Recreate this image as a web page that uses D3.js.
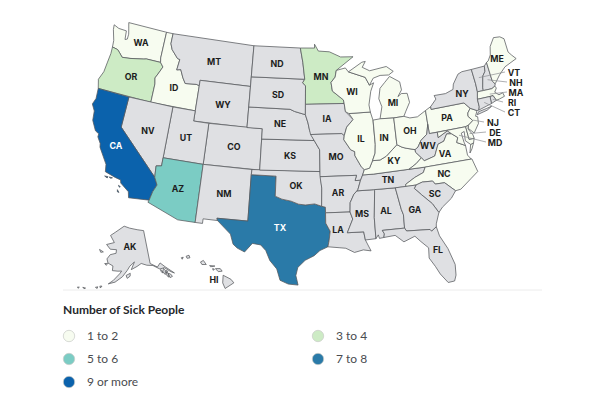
<!DOCTYPE html>
<html>
<head>
<meta charset="utf-8">
<script src="https://cdn.jsdelivr.net/npm/d3@7"></script>
<style>
  html, body { margin: 0; padding: 0; background: #fff; }
  svg { display: block; }
  .state { stroke: #55585c; stroke-width: 0.75; stroke-linejoin: round; }
  .abbr { font-family: Inter, sans-serif; font-weight: 700; font-size: 8.8px; text-anchor: middle; dominant-baseline: central; fill: #1b1c20; }
  .legend-title { font-family: Lato, sans-serif; font-weight: 700; font-size: 12px; fill: #26282c; }
  .legend-label { font-family: Lato, sans-serif; font-size: 12px; fill: #4a4c50; }
</style>
</head>
<body>
<svg id="chart" width="595" height="406"></svg>
<script>
// legend buckets
const bucketLabels = ["1 to 2", "3 to 4", "5 to 6", "7 to 8", "9 or more"];
const bucketColors = ["#f7fcf0", "#cdebc5", "#7bccc4", "#2a7aa8", "#0b62ac"];
const noCaseColor = "#dfe0e3";

// which bucket each state falls in (missing = no sick people reported)
const bucket0 = ["WA", "ID", "WI", "MI", "IL", "IN", "OH", "KY", "PA", "VA", "NC", "ME", "MA", "NJ", "MD", "DE"];
const bucket1 = ["OR", "MN"];
const bucket2 = ["AZ"];
const bucket3 = ["TX"];
const bucket4 = ["CA"];

// rough state outlines, lon/lat
const stateShapes = {
  WA: [[[-124.7,48.38],[-123.9,48.17],[-122.75,48.15],[-122.6,47.3],[-122.3,47.4],[-122.3,47.9],[-122.5,48.4],[-122.75,49],[-117.03,49],[-117.04,46.42],[-116.92,45.99],[-118.98,46],[-119.3,45.93],[-121.2,45.65],[-122.3,45.55],[-122.8,45.9],[-123.2,46.15],[-124,46.25],[-124.1,46.9],[-124.6,47.9]]],
  OR: [[[-124,46.25],[-123.2,46.15],[-122.8,45.9],[-122.3,45.55],[-121.2,45.65],[-119.3,45.93],[-118.98,46],[-116.92,45.99],[-116.46,45.6],[-116.85,44.95],[-117.2,44.4],[-117.03,43.83],[-117.03,42],[-124.21,42],[-124.55,42.85],[-124.15,43.7],[-124.05,44.7],[-123.95,45.6]]],
  ID: [[[-117.03,49],[-116.05,49],[-116.05,48],[-115.7,47.45],[-114.7,46.7],[-114.35,46.65],[-114.5,45.6],[-113.95,45.7],[-113.45,44.95],[-113,44.45],[-111.5,44.55],[-111.05,44.48],[-111.05,42],[-117.03,42],[-117.03,43.83],[-117.2,44.4],[-116.85,44.95],[-116.46,45.6],[-116.92,45.99],[-117.04,46.42]]],
  MT: [[[-116.05,49],[-104.05,49],[-104.05,45],[-111.05,45],[-111.05,44.48],[-111.5,44.55],[-113,44.45],[-113.45,44.95],[-113.95,45.7],[-114.5,45.6],[-114.35,46.65],[-114.7,46.7],[-115.7,47.45],[-116.05,48]]],
  WY: [[[-111.05,45],[-104.05,45],[-104.05,41],[-111.05,41]]],
  CO: [[[-109.05,41],[-102.05,41],[-102.05,37],[-109.05,37]]],
  UT: [[[-114.05,42],[-111.05,42],[-111.05,41],[-109.05,41],[-109.05,37],[-114.05,37]]],
  NV: [[[-120,42],[-114.05,42],[-114.05,36.2],[-114.7,36.1],[-114.6,35],[-120,39]]],
  CA: [[[-124.21,42],[-120,42],[-120,39],[-114.6,35],[-114.15,34.3],[-114.5,33.6],[-114.72,32.72],[-117.12,32.53],[-117.3,33.1],[-118.4,33.75],[-118.5,34.03],[-119.2,34.15],[-120.5,34.45],[-120.65,35.15],[-121.9,36.6],[-122,36.95],[-122.5,37.5],[-122.5,37.8],[-123,38],[-123.7,38.9],[-123.85,39.8],[-124.35,40.4],[-124.1,41]],
    [[-120.45,34.03],[-120.05,34.05],[-120.1,33.9]],[[-119.9,34.05],[-119.5,34.05],[-119.7,33.95]],[[-118.6,33.48],[-118.35,33.4],[-118.45,33.32]],[[-118.6,33.05],[-118.35,32.82],[-118.55,32.85]]],
  AZ: [[[-114.05,37],[-109.05,37],[-109.05,31.33],[-111.07,31.33],[-114.81,32.5],[-114.72,32.72],[-114.5,33.6],[-114.15,34.3],[-114.6,35],[-114.7,36.1],[-114.05,36.2]]],
  NM: [[[-109.05,37],[-103,37],[-103.04,36.5],[-103.04,32],[-106.62,32],[-106.53,31.78],[-108.2,31.78],[-108.2,31.33],[-109.05,31.33]]],
  TX: [[[-103.04,36.5],[-100,36.5],[-100,34.56],[-99.2,34.3],[-98.1,34.13],[-97.2,33.85],[-96.4,33.78],[-95.3,33.88],[-94.48,33.64],[-94.04,33.55],[-94.04,33],[-94.04,32],[-93.55,31.2],[-93.7,30.3],[-93.85,29.7],[-94.75,29.35],[-95.4,28.85],[-96.4,28.4],[-97.2,27.7],[-97.4,26.9],[-97.15,25.97],[-98.2,26.05],[-99.1,26.4],[-99.5,27.5],[-100.3,28.3],[-100.8,29.25],[-101.4,29.77],[-102.35,29.87],[-103.15,28.98],[-104,29.3],[-104.5,29.65],[-104.9,30.6],[-106.53,31.78],[-106.62,32],[-103.04,32]]],
  OK: [[[-103,37],[-94.62,37],[-94.43,35.4],[-94.48,33.64],[-95.3,33.88],[-96.4,33.78],[-97.2,33.85],[-98.1,34.13],[-99.2,34.3],[-100,34.56],[-100,36.5],[-103.04,36.5]]],
  KS: [[[-102.05,40],[-95.3,40],[-94.62,39.1],[-94.62,37],[-102.05,37]]],
  NE: [[[-104.05,43],[-98.5,43],[-97.9,42.8],[-96.45,42.5],[-96.1,41.7],[-95.9,41],[-95.3,40],[-102.05,40],[-102.05,41],[-104.05,41]]],
  SD: [[[-104.05,45.94],[-96.56,45.94],[-96.85,45.6],[-96.45,45.3],[-96.45,43.5],[-96.45,42.5],[-97.9,42.8],[-98.5,43],[-104.05,43]]],
  ND: [[[-104.05,49],[-97.23,49],[-96.85,47.6],[-96.56,45.94],[-104.05,45.94]]],
  MN: [[[-97.23,49],[-95.15,49],[-95.15,49.38],[-94.6,48.7],[-93,48.6],[-91.4,48.05],[-89.6,48],[-92.1,46.75],[-92.3,46.1],[-92.9,45.6],[-92.75,44.75],[-91.3,43.85],[-91.22,43.5],[-96.45,43.5],[-96.45,45.3],[-96.85,45.6],[-96.56,45.94],[-96.85,47.6]]],
  IA: [[[-96.45,43.5],[-91.22,43.5],[-91.1,42.7],[-90.15,41.9],[-91.05,41.2],[-91.42,40.38],[-91.73,40.6],[-95.77,40.58],[-95.9,41],[-96.1,41.7],[-96.45,42.5]]],
  MO: [[[-95.77,40.58],[-91.73,40.6],[-91.42,40.38],[-91.5,40],[-90.7,39],[-90.2,38.8],[-90.2,38.4],[-89.5,37.3],[-89.15,37],[-89.4,36.5],[-89.7,36],[-90.37,36],[-90.15,36.5],[-94.62,36.5],[-94.62,39.1],[-95.3,40]]],
  AR: [[[-94.62,36.5],[-90.15,36.5],[-90.37,36],[-89.7,36],[-90.1,35.1],[-90.6,34.7],[-91.1,33.9],[-91.17,33],[-94.04,33],[-94.04,33.55],[-94.48,33.64],[-94.43,35.4]]],
  LA: [[[-94.04,33],[-91.17,33],[-90.9,32.3],[-91.6,31],[-89.73,31],[-89.6,30.2],[-89.4,29.8],[-89.05,29.1],[-89.9,29.25],[-90.9,29.05],[-91.85,29.5],[-92.6,29.58],[-93.85,29.7],[-93.7,30.3],[-93.55,31.2],[-94.04,32]]],
  MS: [[[-90.2,35],[-88.2,35],[-88.1,34.9],[-88.4,32.3],[-88.4,30.25],[-89.6,30.2],[-89.73,31],[-91.6,31],[-90.9,32.3],[-91.17,33],[-91.1,33.9],[-90.6,34.7]]],
  AL: [[[-88.2,35],[-85.6,34.98],[-85.18,32.85],[-85,32.3],[-85.05,31],[-87.6,31],[-87.4,30.65],[-87.5,30.3],[-88,30.25],[-88.1,30.6],[-88.4,30.25],[-88.4,32.3],[-88.1,34.9]]],
  TN: [[[-89.4,36.5],[-88.07,36.5],[-83.68,36.6],[-81.68,36.59],[-82,36.1],[-83.1,35.75],[-84.3,35.2],[-84.32,34.98],[-85.6,34.98],[-88.2,35],[-90.2,35],[-90.1,35.1],[-89.7,36]]],
  KY: [[[-89.4,36.5],[-89.15,37],[-88.5,37.1],[-88.05,37.8],[-87.1,37.8],[-86.3,38.1],[-85.4,38.7],[-84.8,39.1],[-84.2,38.8],[-83.7,38.65],[-82.6,38.4],[-82.6,38.15],[-81.97,37.54],[-82.7,37.05],[-83.68,36.6],[-88.07,36.5]]],
  IL: [[[-90.65,42.5],[-87.8,42.5],[-87.55,41.7],[-87.53,39.35],[-87.65,38.5],[-88.05,37.8],[-88.5,37.1],[-89.15,37],[-89.5,37.3],[-90.2,38.4],[-90.2,38.8],[-90.7,39],[-91.5,40],[-91.42,40.38],[-91.05,41.2],[-90.15,41.9]]],
  WI: [[[-92.1,46.75],[-90.8,46.95],[-90.4,46.55],[-88.1,45.9],[-87.6,45.1],[-87,45.3],[-87.5,44.5],[-87.9,43.2],[-87.8,42.5],[-90.65,42.5],[-91.1,42.7],[-91.22,43.5],[-91.3,43.85],[-92.75,44.75],[-92.9,45.6],[-92.3,46.1]]],
  MI: [[[-86.6,41.76],[-84.8,41.7],[-83.45,41.73],[-83.1,42.2],[-82.45,43],[-82.6,43.9],[-83.4,43.95],[-83.9,43.7],[-83.3,44.3],[-83.4,45.1],[-84.7,45.75],[-85.5,45.2],[-86.2,44.7],[-86.5,43.7],[-86.2,42.9]],
    [[-90.4,46.55],[-88.4,47.4],[-87.9,47.45],[-88.4,46.9],[-87.4,46.5],[-85,46.75],[-84.1,46.2],[-84.8,45.9],[-86,45.95],[-87,45.75],[-87.6,45.1],[-88.1,45.9]]],
  IN: [[[-87.53,41.7],[-86.6,41.76],[-84.8,41.7],[-84.8,39.1],[-85.4,38.7],[-86.3,38.1],[-87.1,37.8],[-88.05,37.8],[-87.65,38.5],[-87.53,39.35]]],
  OH: [[[-84.8,41.7],[-83.45,41.73],[-82.7,41.5],[-81.7,41.5],[-80.52,41.98],[-80.52,40.64],[-80.85,39.7],[-81.7,39.2],[-82.2,38.6],[-82.6,38.4],[-83.7,38.65],[-84.2,38.8],[-84.8,39.1]]],
  PA: [[[-80.52,41.98],[-79.76,42.27],[-79.76,42],[-75.35,42],[-74.7,41.36],[-75.13,40.97],[-75.2,40.65],[-74.72,40.15],[-75.4,39.8],[-75.79,39.72],[-80.52,39.72],[-80.52,40.64]]],
  WV: [[[-80.52,40.64],[-80.52,39.72],[-79.48,39.72],[-79.48,39.2],[-78.2,39.68],[-77.72,39.32],[-78.35,39.4],[-78.87,38.76],[-79.65,38.57],[-80.3,37.5],[-81.68,37.2],[-81.97,37.54],[-82.6,38.15],[-82.6,38.4],[-82.2,38.6],[-81.7,39.2],[-80.85,39.7]]],
  VA: [[[-83.68,36.6],[-82.7,37.05],[-81.97,37.54],[-81.68,37.2],[-80.3,37.5],[-79.65,38.57],[-78.87,38.76],[-78.35,39.4],[-77.72,39.32],[-77.05,38.85],[-77.3,38.4],[-76.3,37.95],[-76.3,37],[-75.95,36.55],[-81.68,36.59]],
    [[-75.95,37.15],[-75.65,37.95],[-75.25,38.03],[-75.6,37.5]]],
  MD: [[[-79.48,39.72],[-75.79,39.72],[-75.7,38.46],[-75.05,38.45],[-75.25,38.03],[-75.65,37.95],[-76.2,38.4],[-76.1,39.3],[-76.5,39.2],[-76.4,38.3],[-76.3,37.95],[-77.3,38.4],[-77.05,38.85],[-77.72,39.32],[-78.2,39.68],[-79.48,39.2]]],
  DE: [[[-75.79,39.72],[-75.4,39.8],[-75.55,39.45],[-75.1,38.8],[-75.05,38.45],[-75.7,38.46]]],
  NJ: [[[-74.7,41.36],[-73.9,41],[-74.25,40.5],[-74,40.4],[-74.1,39.75],[-74.9,38.95],[-75.5,39.5],[-75.4,39.8],[-74.72,40.15],[-75.2,40.65],[-75.13,40.97]]],
  NC: [[[-84.32,34.98],[-84.3,35.2],[-83.1,35.75],[-82,36.1],[-81.68,36.59],[-75.87,36.55],[-75.5,35.25],[-76.5,34.7],[-77.9,33.9],[-78.55,33.85],[-79.67,34.8],[-80.8,34.82],[-81.05,35.15],[-82.3,35.2],[-83.1,35]]],
  SC: [[[-83.1,35],[-82.3,35.2],[-81.05,35.15],[-80.8,34.82],[-79.67,34.8],[-78.55,33.85],[-79.2,33.2],[-80.4,32.5],[-80.9,32.05],[-81.5,33],[-82.6,34],[-83.35,34.7]]],
  GA: [[[-85.6,34.98],[-83.1,35],[-83.35,34.7],[-82.6,34],[-81.5,33],[-80.9,32.05],[-81.4,31],[-81.45,30.72],[-82.05,30.36],[-82.2,30.55],[-84.86,30.7],[-85.05,31],[-85,32.3],[-85.18,32.85]]],
  FL: [[[-87.6,31],[-85.05,31],[-84.86,30.7],[-82.2,30.55],[-82.05,30.36],[-81.45,30.72],[-81.25,29.8],[-80.55,28.45],[-80.05,26.8],[-80.15,25.75],[-80.4,25.2],[-81.1,25.15],[-81.8,26.1],[-82.2,26.9],[-82.75,27.8],[-82.65,28.8],[-83.4,29.5],[-84,30.1],[-85.3,29.68],[-86.2,30.4],[-87.5,30.3],[-87.4,30.65]]],
  NY: [[[-79.76,42.27],[-78.9,42.9],[-79.05,43.27],[-77.5,43.25],[-76.4,43.5],[-76.2,44],[-75.3,44.85],[-74.7,45],[-73.35,45],[-73.25,43.55],[-73.27,42.75],[-73.5,42.05],[-73.5,41.3],[-73.65,41],[-73.9,41],[-74.7,41.36],[-75.35,42],[-79.76,42]],
    [[-74,40.6],[-73.75,40.85],[-72.6,40.98],[-71.9,41.07],[-72.6,40.8]]],
  VT: [[[-73.35,45],[-71.5,45.01],[-71.6,44.5],[-72.05,44.1],[-72.45,43],[-72.46,42.73],[-73.27,42.75],[-73.25,43.55]]],
  NH: [[[-71.5,45.01],[-71.08,45.3],[-70.98,43.4],[-70.7,43.07],[-70.82,42.87],[-71.3,42.7],[-72.46,42.73],[-72.45,43],[-72.05,44.1],[-71.6,44.5]]],
  ME: [[[-71.08,45.3],[-70.8,45.4],[-70.3,45.9],[-70,46.7],[-69.2,47.45],[-68.3,47.35],[-67.8,47.05],[-67.8,45.7],[-67.45,45.3],[-67,44.85],[-68.8,44.4],[-69.8,43.8],[-70.7,43.07],[-70.98,43.4]]],
  MA: [[[-73.5,42.05],[-73.27,42.75],[-72.46,42.73],[-71.3,42.7],[-70.82,42.87],[-70.7,42.65],[-71.05,42.3],[-70.6,41.95],[-70.05,42.05],[-69.95,41.67],[-70.65,41.55],[-71.12,41.5],[-71.38,42.02],[-71.8,42.02]]],
  RI: [[[-71.8,42.02],[-71.38,42.02],[-71.12,41.5],[-71.85,41.32]]],
  CT: [[[-73.5,42.05],[-71.8,42.02],[-71.85,41.32],[-73.65,41],[-73.5,41.3]]],
  AK: [[[-141,69.65],[-141,60.3],[-137.5,58.9],[-135.5,59.8],[-133.5,58.4],[-130,55.9],[-131.5,56.6],[-134,58.2],[-136.5,58.2],[-139.7,59.6],[-143,60],[-146,60.7],[-148.5,60],[-151.8,59.2],[-149.8,61.3],[-152.5,60.2],[-154,59],[-156.5,57.2],[-160,55.6],[-163.2,54.9],[-161,56],[-158,58],[-157,58.8],[-159,58.7],[-162,58.7],[-162,60],[-165,60.6],[-166,61.7],[-164.5,63],[-161,63.6],[-161,64.6],[-165,64.5],[-168,65.6],[-163,66.5],[-166.5,68.3],[-163,69.5],[-156.6,71.35],[-152,70.8],[-146,70.2]],
    [[-154.6,57.6],[-152.4,58.2],[-152.5,57.4],[-154,56.8]],[[-134.6,58.1],[-133.9,57.5],[-134.6,56.3],[-135.4,57.2]],[[-136.2,58],[-135.4,57.4],[-135.7,56.9],[-136.3,57.6]],[[-133.9,56.9],[-133,56.4],[-133.2,55.3],[-133.9,55.8]],[[-133,56.4],[-132,56],[-131.5,55.2],[-132.8,55.1]],[[-133.5,57.3],[-132.9,57],[-133.2,56.7],[-133.9,56.9]],[[-166.8,60.3],[-165.2,60.5],[-165.7,59.9]],[[-171.7,63.8],[-169,63.4],[-170.5,63.1]],[[-167,53.9],[-166,54],[-166.6,53.4]],[[-168.9,53.3],[-167.9,53.6],[-168,53.1]],[[-174.5,52.4],[-173.2,52.4],[-173.8,52.1]],[[-176.8,52],[-176,52.1],[-176.4,51.7]]],
  HI: [[[-155.9,20.25],[-155.1,19.85],[-154.8,19.5],[-155.7,18.95],[-155.95,19.5]],[[-156.7,20.9],[-156.2,20.9],[-156,20.65],[-156.4,20.6]],[[-157.3,21.2],[-156.75,21.15],[-157.2,21.08]],[[-156.98,20.92],[-156.8,20.82],[-156.95,20.74]],[[-158.25,21.55],[-157.95,21.7],[-157.65,21.3],[-158.1,21.3]],[[-159.75,22.1],[-159.45,22.2],[-159.35,21.95],[-159.65,21.9]],[[-160.25,21.95],[-160.05,22],[-160.15,21.8]]]
};

// where each abbreviation sits in the picture
const labelAt = {
  WA: [141, 42], OR: [131, 76], ID: [174, 87], MT: [214, 61], ND: [277, 63], SD: [278, 94], WY: [223, 104],
  NV: [148, 130], UT: [186, 137], NE: [280, 123], CO: [234, 146], KS: [290, 155], CA: [116, 145], AZ: [178, 188],
  NM: [224, 193], OK: [296, 185], TX: [280, 227], AK: [130, 246], HI: [214, 279], MN: [321, 76], WI: [352, 91],
  MI: [393, 102], IA: [327, 118], IL: [361, 138], IN: [384, 137], OH: [410, 130], MO: [336, 156], KY: [394, 160],
  WV: [428, 145], VA: [445, 153], AR: [338, 192], TN: [388, 179], NC: [444, 173], SC: [435, 193], MS: [362, 213],
  AL: [386, 210], GA: [415, 209], LA: [338, 229], FL: [438, 249], NY: [462, 93], PA: [447, 117], ME: [497, 58],
  VT: [514, 72], NH: [516, 82], MA: [516, 92], RI: [512, 102], CT: [514, 112], NJ: [493, 122], DE: [495, 132], MD: [495, 142]
};
// states too small to label inside get a lead line from the centroid to the text
const calloutStates = ["VT", "NH", "MA", "RI", "CT", "NJ", "DE", "MD"];

const svg = d3.select("#chart");

const bucketOf = {};
[bucket0, bucket1, bucket2, bucket3, bucket4].forEach((list, i) => {
  list.forEach(code => bucketOf[code] = i);
});

// d3 wants exterior rings clockwise, my outlines are not all wound the same
function fixRing(ring) {
  const closed = ring.concat([ring[0]]);
  const area = d3.geoArea({ type: "Polygon", coordinates: [closed] });
  return area > 2 * Math.PI ? closed.slice().reverse() : closed;
}

const features = Object.keys(stateShapes).map(code => ({
  type: "Feature",
  id: code,
  geometry: { type: "MultiPolygon", coordinates: stateShapes[code].map(r => [fixRing(r)]) }
}));

const projection = d3.geoAlbersUsa().scale(588).translate([304, 154]);
const path = d3.geoPath(projection);

svg.append("g").selectAll("path")
  .data(features)
  .enter().append("path")
  .attr("class", "state")
  .attr("d", path)
  .attr("fill", d => bucketOf[d.id] === undefined ? noCaseColor : bucketColors[bucketOf[d.id]]);

// lead lines go under the labels
calloutStates.forEach(code => {
  const c = path.centroid(features.find(f => f.id === code));
  svg.append("line")
    .attr("x1", c[0]).attr("y1", c[1])
    .attr("x2", labelAt[code][0] - 9).attr("y2", labelAt[code][1])
    .attr("stroke", "#8b8d91").attr("stroke-width", 0.7);
});

svg.append("g").selectAll("text")
  .data(features)
  .enter().append("text")
  .attr("class", "abbr")
  .attr("x", d => labelAt[d.id][0])
  .attr("y", d => labelAt[d.id][1])
  .style("fill", d => bucketOf[d.id] >= 3 ? "#fff" : null)
  .text(d => d.id);

// legend
svg.append("line")
  .attr("x1", 63).attr("x2", 542).attr("y1", 290).attr("y2", 290)
  .attr("stroke", "#ececec").attr("stroke-width", 1);

svg.append("text")
  .attr("class", "legend-title")
  .attr("x", 63).attr("y", 314)
  .text("Number of Sick People");

const legendX = d3.scalePoint().domain([0, 1]).range([69, 318]);
const legendY = d3.scalePoint().domain([0, 1, 2]).range([336, 382]);

const legendItem = svg.append("g").selectAll("g")
  .data(bucketLabels)
  .enter().append("g")
  .attr("transform", (d, i) => `translate(${legendX(i % 2)},${legendY(Math.floor(i / 2))})`);

legendItem.append("circle")
  .attr("r", 5.7)
  .attr("fill", (d, i) => bucketColors[i])
  .attr("stroke", "#c9cbc7")
  .attr("stroke-width", 0.7);

legendItem.append("text")
  .attr("class", "legend-label")
  .attr("x", 18)
  .attr("y", 4)
  .text(d => d);
</script>
</body>
</html>
